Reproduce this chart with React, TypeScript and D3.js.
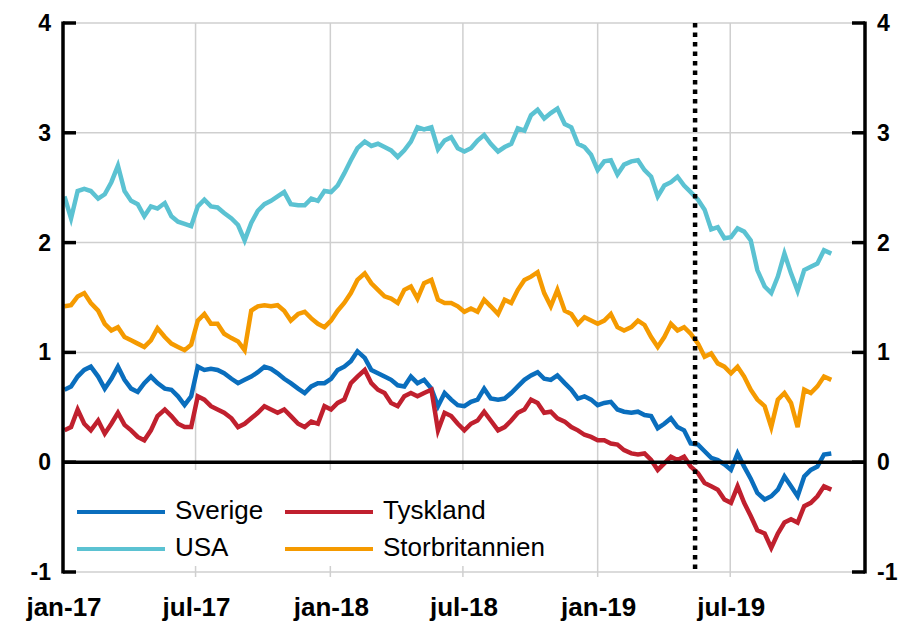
import * as d3 from "d3";

// roughly every 9 days, starting early January 2017
const startDate = new Date(2017, 0, 3);
const stepDays = 9.1;

const usa = [
  2.42, 2.22, 2.47, 2.49, 2.47, 2.40, 2.44, 2.55, 2.70, 2.47,
  2.38, 2.35, 2.24, 2.33, 2.31, 2.36, 2.24, 2.19, 2.17, 2.15,
  2.33, 2.39, 2.33, 2.32, 2.27, 2.22, 2.16, 2.02, 2.18, 2.29,
  2.35, 2.38, 2.42, 2.46, 2.35, 2.34, 2.34, 2.40, 2.38, 2.47,
  2.46, 2.52, 2.63, 2.75, 2.86, 2.92, 2.88, 2.90, 2.87, 2.84,
  2.78, 2.84, 2.92, 3.05, 3.03, 3.05, 2.85, 2.93, 2.96, 2.86,
  2.83, 2.86, 2.93, 2.98, 2.90, 2.83, 2.87, 2.90, 3.04, 3.02,
  3.16, 3.21, 3.13, 3.18, 3.22, 3.08, 3.05, 2.90, 2.87, 2.80,
  2.66, 2.74, 2.75, 2.62, 2.71, 2.74, 2.75, 2.66, 2.60, 2.42,
  2.52, 2.55, 2.60, 2.52, 2.46, 2.39, 2.30, 2.12, 2.14, 2.04,
  2.05, 2.13, 2.10, 2.02, 1.75, 1.60, 1.54, 1.69, 1.90, 1.72,
  1.56, 1.75, 1.78, 1.81, 1.93, 1.90,
];

const storbritannien = [
  1.42, 1.43, 1.51, 1.54, 1.45, 1.38, 1.26, 1.20, 1.23, 1.14,
  1.11, 1.08, 1.05, 1.11, 1.22, 1.14, 1.08, 1.05, 1.02, 1.07,
  1.29, 1.35, 1.26, 1.26, 1.17, 1.13, 1.10, 1.02, 1.38, 1.42,
  1.43, 1.42, 1.43, 1.38, 1.29, 1.35, 1.37, 1.31, 1.26, 1.23,
  1.29, 1.38, 1.45, 1.54, 1.66, 1.72, 1.63, 1.57, 1.51, 1.49,
  1.45, 1.57, 1.60, 1.49, 1.63, 1.66, 1.48, 1.45, 1.45, 1.42,
  1.37, 1.40, 1.37, 1.48, 1.42, 1.35, 1.48, 1.45, 1.57, 1.66,
  1.69, 1.73, 1.54, 1.42, 1.57, 1.38, 1.35, 1.26, 1.32, 1.29,
  1.26, 1.29, 1.35, 1.23, 1.20, 1.23, 1.29, 1.25, 1.14, 1.05,
  1.14, 1.26, 1.20, 1.23, 1.17, 1.08, 0.96, 0.99, 0.90, 0.87,
  0.81, 0.87, 0.78, 0.66, 0.57, 0.51, 0.32, 0.57, 0.63, 0.54,
  0.32, 0.66, 0.63, 0.69, 0.78, 0.75,
];

const sverige = [
  0.66, 0.69, 0.78, 0.84, 0.87, 0.78, 0.67, 0.76, 0.87, 0.75,
  0.67, 0.64, 0.72, 0.78, 0.72, 0.67, 0.66, 0.60, 0.52, 0.60,
  0.87, 0.84, 0.85, 0.84, 0.81, 0.76, 0.72, 0.75, 0.78, 0.82,
  0.87, 0.85, 0.81, 0.76, 0.72, 0.67, 0.63, 0.69, 0.72, 0.72,
  0.76, 0.84, 0.87, 0.92, 1.01, 0.95, 0.84, 0.81, 0.78, 0.75,
  0.70, 0.69, 0.78, 0.72, 0.75, 0.67, 0.51, 0.63, 0.57, 0.52,
  0.51, 0.55, 0.57, 0.67, 0.58, 0.57, 0.58, 0.63, 0.69, 0.75,
  0.79, 0.82, 0.76, 0.75, 0.79, 0.72, 0.66, 0.58, 0.60, 0.57,
  0.52, 0.54, 0.55, 0.48, 0.46, 0.45, 0.46, 0.43, 0.42, 0.31,
  0.35, 0.40, 0.32, 0.29, 0.17, 0.16, 0.10, 0.04, 0.02, -0.02,
  -0.07, 0.08, -0.04, -0.15, -0.28, -0.34, -0.31, -0.25, -0.13, -0.22,
  -0.31, -0.13, -0.07, -0.04, 0.07, 0.08,
];

const tyskland = [
  0.29, 0.32, 0.48, 0.35, 0.29, 0.38, 0.26, 0.35, 0.45, 0.34,
  0.29, 0.23, 0.20, 0.29, 0.42, 0.48, 0.42, 0.35, 0.32, 0.32,
  0.60, 0.57, 0.51, 0.48, 0.45, 0.40, 0.32, 0.35, 0.40, 0.45,
  0.51, 0.48, 0.45, 0.48, 0.42, 0.35, 0.32, 0.37, 0.35, 0.51,
  0.48, 0.54, 0.57, 0.72, 0.78, 0.84, 0.72, 0.66, 0.63, 0.54,
  0.51, 0.60, 0.63, 0.60, 0.63, 0.66, 0.29, 0.45, 0.42, 0.35,
  0.29, 0.35, 0.38, 0.46, 0.38, 0.29, 0.32, 0.38, 0.45, 0.48,
  0.57, 0.54, 0.45, 0.46, 0.40, 0.37, 0.32, 0.29, 0.25, 0.23,
  0.20, 0.20, 0.17, 0.16, 0.11, 0.08, 0.07, 0.08, 0.02, -0.07,
  -0.01, 0.05, 0.02, 0.05, -0.04, -0.10, -0.19, -0.22, -0.25, -0.34,
  -0.37, -0.22, -0.37, -0.49, -0.62, -0.65, -0.78, -0.65, -0.55, -0.52,
  -0.55, -0.40, -0.37, -0.31, -0.22, -0.25,
];

const series = [
  { name: "USA", values: usa, color: "#5BC2D2" },
  { name: "Storbritannien", values: storbritannien, color: "#F59A00" },
  { name: "Sverige", values: sverige, color: "#0A6EBD" },
  { name: "Tyskland", values: tyskland, color: "#C0202E" },
];

const legendRows = [
  ["Sverige", "Tyskland"],
  ["USA", "Storbritannien"],
];

const xTicks = [
  new Date(2017, 0, 1), new Date(2017, 6, 1), new Date(2018, 0, 1),
  new Date(2018, 6, 1), new Date(2019, 0, 1), new Date(2019, 6, 1),
];
const xGrid = xTicks.slice(1);
const yTicks = [-1, 0, 1, 2, 3, 4];
const markerDate = new Date(2019, 4, 14);

const fmt = (d: Date) =>
  (d.getMonth() === 0 ? "jan" : "jul") + "-" + String(d.getFullYear()).slice(2);

export default function App() {
  const width = 904;
  const height = 624;
  const left = 63;
  const right = 865;
  const top = 23;
  const bottom = 572;

  const x = d3.scaleTime()
    .domain([new Date(2017, 0, 1), new Date(2020, 0, 1)])
    .range([left, right]);
  const y = d3.scaleLinear().domain([-1, 4]).range([bottom, top]);

  const dates = usa.map((_, i) => d3.timeDay.offset(startDate, Math.round(i * stepDays)));

  const line = d3.line<number>()
    .x((_, i) => x(dates[i]))
    .y((v) => y(v));

  const colorOf = (n: string) => series.find((s) => s.name === n)!.color;

  return (
    <svg
      width={width}
      height={height}
      style={{ position: "absolute", left: 0, top: 0, background: "#fff" }}
      fontFamily="'Liberation Sans', Arial, sans-serif"
    >
      {/* grid */}
      {yTicks.filter((t) => t !== 0).map((t) => (
        <line key={"hy" + t} x1={left} x2={right} y1={y(t)} y2={y(t)} stroke="#cfcfcf" strokeWidth={1.5} />
      ))}
      {xGrid.map((d, i) => (
        <line key={"gx" + i} x1={x(d)} x2={x(d)} y1={top} y2={bottom + 5} stroke="#cfcfcf" strokeWidth={1.5} />
      ))}

      {/* legend box */}
      <rect x={68} y={470} width={500} height={96} fill="#fff" />

      {/* series */}
      {series.map((s) => (
        <path key={s.name} d={line(s.values) ?? ""} fill="none" stroke={s.color} strokeWidth={4.5} strokeLinejoin="miter" />
      ))}

      {/* zero line */}
      <line x1={left} x2={right} y1={y(0)} y2={y(0)} stroke="#000" strokeWidth={3.5} />

      {/* marker */}
      <line x1={x(markerDate)} x2={x(markerDate)} y1={top} y2={bottom} stroke="#000" strokeWidth={4.5} strokeDasharray="4.5,5" />

      {/* axes */}
      <line x1={left} x2={left} y1={top - 1.5} y2={bottom + 1.5} stroke="#000" strokeWidth={3.5} />
      <line x1={right} x2={right} y1={top - 1.5} y2={bottom + 1.5} stroke="#000" strokeWidth={3.5} />
      {yTicks.map((t) => (
        <g key={"t" + t}>
          <line x1={left} x2={left + 13} y1={y(t)} y2={y(t)} stroke="#000" strokeWidth={3.5} />
          <line x1={right - 13} x2={right} y1={y(t)} y2={y(t)} stroke="#000" strokeWidth={3.5} />
          <text x={51} y={y(t) + 8} textAnchor="end" fontSize={23} fontWeight="bold">{t}</text>
          <text x={877} y={y(t) + 8} fontSize={23} fontWeight="bold">{t}</text>
        </g>
      ))}
      {xTicks.map((d, i) => (
        <text key={"xl" + i} x={x(d) + 1} y={616} textAnchor="middle" fontSize={26} fontWeight="bold">{fmt(d)}</text>
      ))}

      {/* legend */}
      {legendRows.map((row, r) =>
        row.map((name, c) => (
          <g key={name}>
            <line x1={77 + c * 208} x2={165 + c * 208} y1={512 + r * 37} y2={512 + r * 37} stroke={colorOf(name)} strokeWidth={4} />
            <text x={175 + c * 208} y={519 + r * 37} fontSize={26}>{name}</text>
          </g>
        ))
      )}
    </svg>
  );
}
